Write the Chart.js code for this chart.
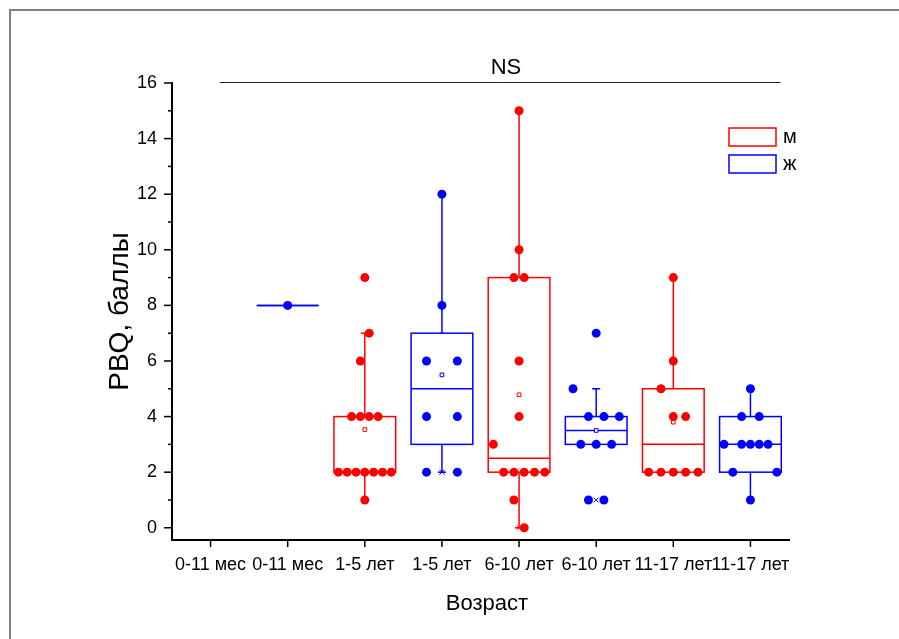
<!DOCTYPE html>
<html>
<head>
<meta charset="utf-8">
<script src="https://cdn.jsdelivr.net/npm/chart.js@4"></script>
<style>
  html, body { margin: 0; padding: 0; background: #fff; }
  #wrap { width: 899px; height: 639px; }
</style>
</head>
<body>
<div id="wrap"><canvas id="pbqChart" width="899" height="639"></canvas></div>
<script>
// categories along x
const ageLabels = ['0-11 мес', '0-11 мес', '1-5 лет', '1-5 лет', '6-10 лет', '6-10 лет', '11-17 лет', '11-17 лет'];
const groupSex = ['м', 'ж', 'м', 'ж', 'м', 'ж', 'м', 'ж'];
const sexNames = ['м', 'ж'];
const sexColors = { 'м': '#FF0000', 'ж': '#0000FF' };

// PBQ scores per group (order = order within a column of dots)
const m_0_11 = [];
const f_0_11 = [8];
const m_1_5 = [9, 6, 7, 4, 4, 4, 4, 2, 2, 2, 2, 2, 2, 2, 1];
const f_1_5 = [12, 8, 6, 6, 4, 4, 2, 2];
const m_6_10 = [15, 10, 9, 9, 6, 4, 3, 2, 2, 2, 2, 2, 1, 0];
const f_6_10 = [7, 5, 4, 4, 4, 3, 3, 3, 1, 1];
const m_11_17 = [9, 6, 5, 4, 4, 2, 2, 2, 2, 2];
const f_11_17 = [4, 5, 4, 3, 2, 3, 3, 3, 3, 2, 1];
const groupScores = [m_0_11, f_0_11, m_1_5, f_1_5, m_6_10, f_6_10, m_11_17, f_11_17];

// box statistics as drawn
const q1 = [null, 8, 2, 3, 2, 3, 2, 2];
const median = [null, 8, 2, 5, 2.5, 3.5, 3, 3];
const q3 = [null, 8, 4, 7, 9, 4, 5, 4];
const whiskerLow = [null, 8, 1, 2, 0, 3, 2, 1];
const whiskerHigh = [null, 8, 7, 12, 15, 5, 9, 5];

const yTickValues = [0, 1, 2, 3, 4, 5, 6, 7, 8, 9, 10, 11, 12, 13, 14, 15, 16];

const BOX_W = 0.8;   // box width, in category units
const BIN = 2;       // dots with scores in the same bin are spread sideways

function spreadOffsets(values) {
    const bins = values.map(v => Math.floor(v / BIN));
    const counts = {};
    bins.forEach(b => counts[b] = (counts[b] || 0) + 1);
    const maxCount = Math.max(1, ...Object.values(counts));
    const step = BOX_W / maxCount;
    const seen = {};
    return bins.map(b => {
        seen[b] = (seen[b] === undefined ? 0 : seen[b] + 1);
        return (seen[b] - (counts[b] - 1) / 2) * step;
    });
}

function dotsFor(sex) {
    const pts = [];
    groupScores.forEach((vals, g) => {
        if (groupSex[g] !== sex) return;
        const off = spreadOffsets(vals);
        vals.forEach((v, i) => pts.push({ x: g + off[i], y: v }));
    });
    return pts;
}

const meanPoints = [];
const extremePoints = [];
groupScores.forEach((vals, g) => {
    if (!vals.length) return;
    const mean = vals.reduce((a, b) => a + b, 0) / vals.length;
    meanPoints.push({ x: g, y: mean });
    extremePoints.push({ x: g, y: Math.min(...vals) });
    extremePoints.push({ x: g, y: Math.max(...vals) });
});
const colorAt = c => sexColors[groupSex[Math.round(c.raw.x)]];

const boxPlugin = {
    id: 'boxes',
    beforeDatasetsDraw(chart) {
        const { ctx, scales: { x, y } } = chart;
        ctx.save();
        ctx.lineWidth = 1.5;
        const line = (x1, y1, x2, y2) => { ctx.beginPath(); ctx.moveTo(x1, y1); ctx.lineTo(x2, y2); ctx.stroke(); };
        ageLabels.forEach((_, g) => {
            if (q1[g] === null) return;
            ctx.strokeStyle = sexColors[groupSex[g]];
            const xl = x.getPixelForValue(g - BOX_W / 2);
            const xr = x.getPixelForValue(g + BOX_W / 2);
            const xc = x.getPixelForValue(g);
            const yq1 = y.getPixelForValue(q1[g]);
            const yq3 = y.getPixelForValue(q3[g]);
            const ymed = y.getPixelForValue(median[g]);
            ctx.strokeRect(xl, yq3, xr - xl, yq1 - yq3);
            line(xl, ymed, xr, ymed);
            if (whiskerHigh[g] > q3[g]) {
                const yw = y.getPixelForValue(whiskerHigh[g]);
                line(xc, yq3, xc, yw);
                line(xc - 4, yw, xc + 4, yw);
            }
            if (whiskerLow[g] < q1[g]) {
                const yw = y.getPixelForValue(whiskerLow[g]);
                line(xc, yq1, xc, yw);
                line(xc - 4, yw, xc + 4, yw);
            }
        });
        ctx.restore();
    },
    afterDraw(chart) {
        const { ctx, chartArea: a, scales: { x, y } } = chart;
        ctx.save();
        // axis ticks
        ctx.strokeStyle = '#000';
        ctx.lineWidth = 1.5;
        yTickValues.forEach(v => {
            const py = y.getPixelForValue(v);
            const len = v % 2 === 0 ? 8 : 4;
            ctx.beginPath(); ctx.moveTo(a.left - len, py); ctx.lineTo(a.left, py); ctx.stroke();
        });
        ageLabels.forEach((_, g) => {
            const px = x.getPixelForValue(g);
            ctx.beginPath(); ctx.moveTo(px, a.bottom); ctx.lineTo(px, a.bottom + 7); ctx.stroke();
        });

        // outer frame
        ctx.strokeStyle = '#808080';
        ctx.lineWidth = 2;
        ctx.strokeRect(10, 10, 2000, 2000);

        // NS bracket
        ctx.strokeStyle = '#222';
        ctx.lineWidth = 1;
        const ny = Math.round(y.getPixelForValue(16)) - 0.5;
        ctx.beginPath();
        ctx.moveTo(x.getPixelForValue(0.12), ny);
        ctx.lineTo(x.getPixelForValue(7.39), ny);
        ctx.stroke();
        ctx.fillStyle = '#000';
        ctx.font = '22px "Liberation Sans", Arial, sans-serif';
        ctx.textAlign = 'center';
        ctx.textBaseline = 'alphabetic';
        ctx.fillText('NS', x.getPixelForValue(3.83), a.top - 9);

        // legend
        ctx.font = '20px "Liberation Sans", Arial, sans-serif';
        ctx.textAlign = 'left';
        ctx.lineWidth = 1.5;
        sexNames.forEach((s, i) => {
            const top = a.top + 45 + i * 27;
            ctx.strokeStyle = sexColors[s];
            ctx.strokeRect(a.right - 60, top, 47, 18);
            ctx.fillText(s, a.right - 6, top + 15);
        });

        // axis titles
        ctx.textAlign = 'center';
        ctx.font = '22px "Liberation Sans", Arial, sans-serif';
        ctx.fillText('Возраст', 487, 610);
        ctx.translate(128, (a.top + a.bottom) / 2);
        ctx.rotate(-Math.PI / 2);
        ctx.font = '28px "Liberation Sans", Arial, sans-serif';
        ctx.fillText('PBQ, баллы', 0, 0);
        ctx.restore();
    }
};

const ctx = document.getElementById('pbqChart').getContext('2d');
const pbqChart = new Chart(ctx, {
    type: 'scatter',
    data: {
        datasets: [
            {
                label: 'м',
                data: dotsFor('м'),
                backgroundColor: sexColors['м'],
                borderWidth: 0,
                pointRadius: 4.5
            },
            {
                label: 'ж',
                data: dotsFor('ж'),
                backgroundColor: sexColors['ж'],
                borderWidth: 0,
                pointRadius: 4.5
            },
            {
                label: 'mean',
                data: meanPoints,
                pointStyle: 'rect',
                pointRadius: 2.6,
                backgroundColor: '#fff',
                borderColor: colorAt,
                borderWidth: 1
            },
            {
                label: 'min/max',
                data: extremePoints,
                pointStyle: 'crossRot',
                pointRadius: 3.5,
                borderColor: colorAt,
                borderWidth: 1
            }
        ]
    },
    options: {
        responsive: false,
        animation: false,
        layout: { padding: { left: 0, top: 83, right: 110, bottom: 0 } },
        plugins: {
            legend: { display: false },
            tooltip: { enabled: false },
            title: { display: false }
        },
        scales: {
            x: {
                type: 'linear',
                min: -0.5,
                max: 7.5,
                afterBuildTicks: s => { s.ticks = ageLabels.map((_, i) => ({ value: i })); },
                afterFit: s => { s.height = 99; },
                ticks: {
                    callback: v => ageLabels[v],
                    autoSkip: false,
                    maxRotation: 0,
                    minRotation: 0,
                    padding: 7,
                    color: '#000',
                    font: { family: '"Liberation Sans", Arial, sans-serif', size: 18 }
                },
                grid: { display: false, drawTicks: true, tickLength: 7 },
                border: { display: true, color: '#000', width: 2 }
            },
            y: {
                min: -0.44,
                max: 16,
                afterBuildTicks: s => { s.ticks = yTickValues.map(v => ({ value: v })); },
                afterFit: s => { s.width = 172; },
                ticks: {
                    callback: v => (v % 2 === 0 ? v : ''),
                    autoSkip: false,
                    padding: 7,
                    color: '#000',
                    font: { family: '"Liberation Sans", Arial, sans-serif', size: 18 }
                },
                grid: { display: false, drawTicks: true, tickLength: 8 },
                border: { display: true, color: '#000', width: 2 }
            }
        }
    },
    plugins: [boxPlugin]
});
</script>
</body>
</html>
